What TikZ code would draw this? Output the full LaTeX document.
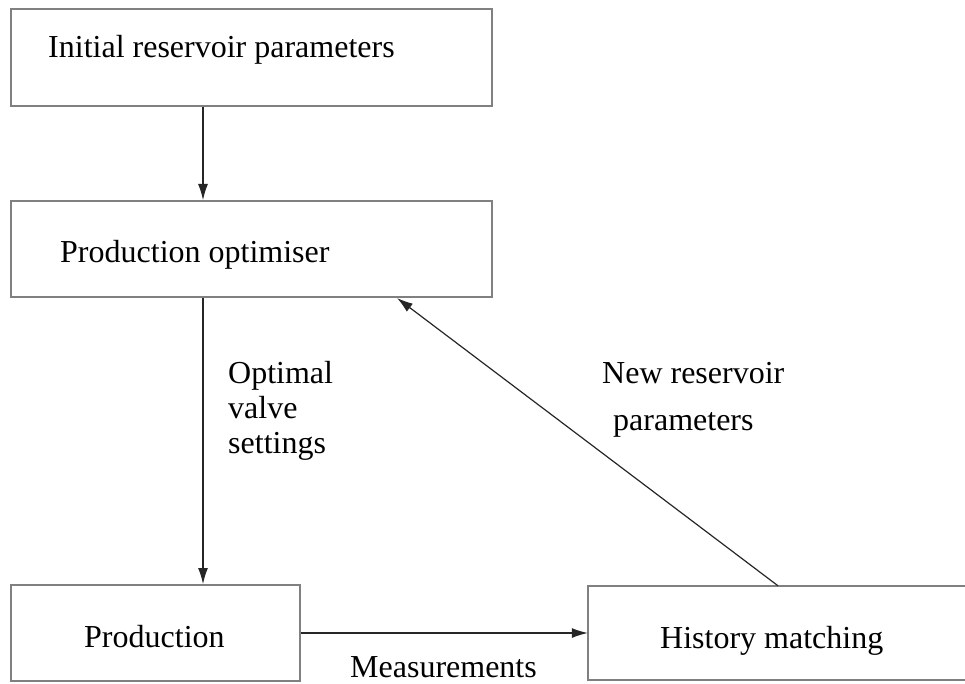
\documentclass[tikz,border=0pt]{standalone}
\usepackage{fontspec}
\setmainfont{Liberation Serif}
\usetikzlibrary{arrows.meta}
\begin{document}
\begin{tikzpicture}[x=1pt,y=-1pt,
  box/.style={draw=black!50, line width=2pt, inner sep=0pt},
  boxline/.style={draw=black!50, line width=2pt},
  conn/.style={line width=1.2pt, draw=black!85, -{Latex[length=16pt,width=10pt]}},
  lbl/.style={font=\fontsize{32}{36}\selectfont, inner sep=0pt, anchor=base west}]
\useasboundingbox (0,0) rectangle (965,684);
% boxes
\node[box, minimum width=481pt, minimum height=97pt] (init) at (251.5,57.5) {};
\node[box, minimum width=481pt, minimum height=96pt] (opt) at (251.5,249) {};
\node[box, minimum width=289pt, minimum height=96pt] (prod) at (155.5,633) {};
\node[inner sep=0pt, minimum width=380pt, minimum height=94pt] (hist) at (778,633) {};
\draw[boxline] (hist.north east) -- (hist.north west) -- (hist.south west) -- (hist.south east);
% texts
\node[lbl] (tinit) at (48,58) {Initial reservoir parameters};
\node[lbl] (topt) at (60,262) {Production optimiser};
\node[lbl] (tprod) at (84,647) {Production};
\node[lbl] (thist) at (660,648) {History matching};
\node[lbl] (l1) at (228,383) {Optimal};
\node[lbl] (l2) at (228,418) {valve};
\node[lbl] (l3) at (228,453) {settings};
\node[lbl] (n1) at (602,383) {New reservoir};
\node[lbl] (n2) at (613,430) {parameters};
\node[lbl] (meas) at (350,677) {Measurements};
% connectors
\draw[conn] ([xshift=-48.5pt]init.south) -- ([xshift=-48.5pt]opt.north);
\draw[conn] ([xshift=-48.5pt]opt.south) -- ([xshift=47.5pt]prod.north);
\draw[conn] (prod.east) -- (hist.west);
\draw[conn] (hist.north) -- ([xshift=145.5pt]opt.south);
\end{tikzpicture}
\end{document}
